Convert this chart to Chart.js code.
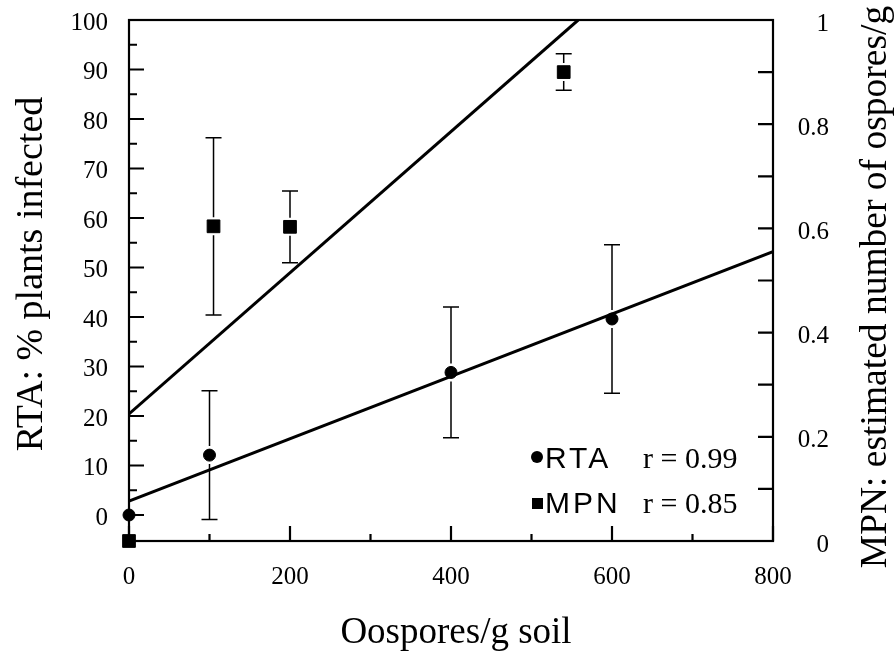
<!DOCTYPE html>
<html>
<head>
<meta charset="utf-8">
<title>RTA and MPN vs oospores</title>
<script src="https://cdn.jsdelivr.net/npm/chart.js@4.4.0/dist/chart.umd.min.js"></script>
<style>
  html, body { margin: 0; padding: 0; background: #fff; }
</style>
</head>
<body>
<canvas id="chart" width="894" height="654"></canvas>
<script>
// RTA: % plants infected (left axis), mean and error
var rtaX = [0, 100, 400, 600];
var rtaY = [0, 12.1, 28.8, 39.6];
var rtaErr = [0, 13, 13.2, 15];

// MPN: estimated number of oospores/g (right axis)
var mpnX = [0, 105, 200, 540];
var mpnY = [0, 0.604, 0.603, 0.9];
var mpnErr = [0, 0.17, 0.069, 0.035];

// regression lines as drawn
var rtaFitX = [0, 800];
var rtaFitY = [2.8, 53.2];
var mpnFitX = [0, 558];
var mpnFitY = [0.244, 1];

// ticks
var xTicks = [0, 200, 400, 600, 800];
var xMinor = [100, 300, 500, 700];
var leftTicks = [0, 10, 20, 30, 40, 50, 60, 70, 80, 90, 100];
var leftMinor = [5, 15, 25, 35, 45, 55, 65, 75, 85, 95];
var rightTicks = [0, 0.2, 0.4, 0.6, 0.8, 1];
var rightMinor = [0.1, 0.3, 0.5, 0.7, 0.9];

var legendNames = ['RTA', 'MPN'];
var legendR = ['r = 0.99', 'r = 0.85'];

var serif = "'Liberation Serif', 'Times New Roman', serif";
var sans = "'Liberation Sans', Arial, sans-serif";

function pts(xs, ys) {
    return xs.map(function (x, i) { return { x: x, y: ys[i] }; });
}

function errBar(ctx, px, py, top, bot, gap) {
    ctx.beginPath();
    ctx.moveTo(px, top); ctx.lineTo(px, py - gap);
    ctx.moveTo(px, py + gap); ctx.lineTo(px, bot);
    ctx.moveTo(px - 8, top); ctx.lineTo(px + 8, top);
    ctx.moveTo(px - 8, bot); ctx.lineTo(px + 8, bot);
    ctx.stroke();
}

// frame, inward ticks and error bars, under the points
var framePlugin = {
    id: 'frame',
    beforeDatasetsDraw: function (chart) {
        var ctx = chart.ctx, a = chart.chartArea;
        var sx = chart.scales.x, sl = chart.scales.y, sr = chart.scales.y2;
        ctx.save();
        ctx.strokeStyle = '#000';
        ctx.lineWidth = 2.2;
        ctx.strokeRect(a.left, a.top, a.right - a.left, a.bottom - a.top);

        ctx.beginPath();
        xTicks.forEach(function (v) { var p = sx.getPixelForValue(v); ctx.moveTo(p, a.bottom); ctx.lineTo(p, a.bottom - 15); });
        xMinor.forEach(function (v) { var p = sx.getPixelForValue(v); ctx.moveTo(p, a.bottom); ctx.lineTo(p, a.bottom - 7); });
        leftTicks.forEach(function (v) { var p = sl.getPixelForValue(v); ctx.moveTo(a.left, p); ctx.lineTo(a.left + 15, p); });
        leftMinor.forEach(function (v) { var p = sl.getPixelForValue(v); ctx.moveTo(a.left, p); ctx.lineTo(a.left + 8, p); });
        rightTicks.concat(rightMinor).forEach(function (v) { var p = sr.getPixelForValue(v); ctx.moveTo(a.right, p); ctx.lineTo(a.right - 15, p); });
        ctx.stroke();

        ctx.lineWidth = 1.5;
        rtaX.forEach(function (x, i) {
            if (!rtaErr[i]) return;
            errBar(ctx, sx.getPixelForValue(x), sl.getPixelForValue(rtaY[i]),
                sl.getPixelForValue(rtaY[i] + rtaErr[i]), sl.getPixelForValue(rtaY[i] - rtaErr[i]), 9);
        });
        mpnX.forEach(function (x, i) {
            if (!mpnErr[i]) return;
            errBar(ctx, sx.getPixelForValue(x), sr.getPixelForValue(mpnY[i]),
                sr.getPixelForValue(mpnY[i] + mpnErr[i]), sr.getPixelForValue(mpnY[i] - mpnErr[i]), 9);
        });
        ctx.restore();
    },
    afterDraw: function (chart) {
        var ctx = chart.ctx;
        ctx.save();
        ctx.fillStyle = '#000';
        ctx.textAlign = 'center';
        ctx.textBaseline = 'alphabetic';
        ctx.font = '37px ' + serif;
        ctx.fillText('Oospores/g soil', 456, 643);

        ctx.font = '38px ' + serif;
        ctx.save();
        ctx.translate(42, 274);
        ctx.rotate(-Math.PI / 2);
        ctx.fillText('RTA: % plants infected', 0, 0);
        ctx.restore();
        ctx.font = '37.5px ' + serif;
        ctx.save();
        ctx.translate(886, 287);
        ctx.rotate(-Math.PI / 2);
        ctx.fillText('MPN: estimated number of ospores/g', 0, 0);
        ctx.restore();

        // legend
        ctx.textAlign = 'left';
        ctx.beginPath();
        ctx.arc(537, 457, 6, 0, Math.PI * 2);
        ctx.fill();
        ctx.fillRect(532, 498, 11, 11);
        ctx.font = '30px ' + sans;
        ctx.letterSpacing = '3px';
        ctx.fillText(legendNames[0], 545, 468);
        ctx.fillText(legendNames[1], 545, 513);
        ctx.letterSpacing = '0px';
        ctx.font = '30px ' + serif;
        ctx.fillText(legendR[0], 643, 468);
        ctx.fillText(legendR[1], 643, 513);
        ctx.restore();
    }
};

var tickFont = { family: serif, size: 25 };

function fixWidth(w) {
    return function (s) {
        s.width = w;
        s.paddingTop = 0;
        s.paddingBottom = 0;
    };
}

var ctx = document.getElementById('chart').getContext('2d');
var chart = new Chart(ctx, {
    type: 'scatter',
    data: {
        datasets: [{
            label: 'RTA',
            data: pts(rtaX, rtaY),
            yAxisID: 'y',
            pointStyle: 'circle',
            pointRadius: 6,
            pointBackgroundColor: '#000',
            pointBorderColor: '#000',
            pointBorderWidth: 1,
            clip: false
        }, {
            label: 'MPN',
            data: pts(mpnX, mpnY),
            yAxisID: 'y2',
            pointStyle: 'rect',
            pointRadius: 9,
            pointBackgroundColor: '#000',
            pointBorderColor: '#000',
            pointBorderWidth: 1,
            clip: false
        }, {
            label: 'RTA fit',
            data: pts(rtaFitX, rtaFitY),
            yAxisID: 'y',
            showLine: true,
            borderColor: '#000',
            borderWidth: 3,
            pointRadius: 0
        }, {
            label: 'MPN fit',
            data: pts(mpnFitX, mpnFitY),
            yAxisID: 'y2',
            showLine: true,
            borderColor: '#000',
            borderWidth: 3,
            pointRadius: 0
        }]
    },
    options: {
        responsive: false,
        animation: false,
        events: [],
        layout: { padding: { left: 72, right: 65, top: 20, bottom: 0 } },
        plugins: {
            legend: { display: false },
            tooltip: { enabled: false }
        },
        scales: {
            x: {
                type: 'linear',
                position: 'bottom',
                min: 0,
                max: 800,
                grid: { display: false, drawTicks: false },
                border: { display: false },
                ticks: { font: tickFont, color: '#000', padding: 21, maxRotation: 0, autoSkip: false },
                afterBuildTicks: function (s) { s.ticks = xTicks.map(function (v) { return { value: v }; }); },
                afterFit: function (s) { s.height = 113; s.paddingLeft = 0; s.paddingRight = 0; }
            },
            y: {
                type: 'linear',
                position: 'left',
                min: -5.25,
                max: 100,
                grid: { display: false, drawTicks: false },
                border: { display: false },
                ticks: { font: tickFont, color: '#000', padding: 21, labelOffset: 3, autoSkip: false },
                afterBuildTicks: function (s) { s.ticks = leftTicks.map(function (v) { return { value: v }; }); },
                afterFit: fixWidth(57)
            },
            y2: {
                type: 'linear',
                position: 'right',
                min: 0,
                max: 1,
                grid: { display: false, drawTicks: false },
                border: { display: false },
                ticks: {
                    font: tickFont, color: '#000', padding: 26, labelOffset: 4, autoSkip: false, crossAlign: 'far',
                    callback: function (v) { return String(v); }
                },
                afterBuildTicks: function (s) { s.ticks = rightTicks.map(function (v) { return { value: v }; }); },
                afterFit: fixWidth(56)
            }
        }
    },
    plugins: [framePlugin]
});
</script>
</body>
</html>
